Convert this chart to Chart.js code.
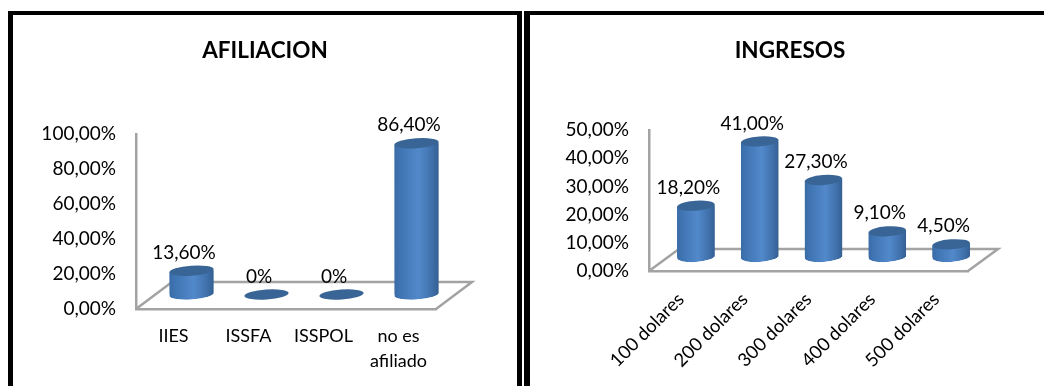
<!DOCTYPE html>
<html>
<head>
<meta charset="utf-8">
<script src="https://cdn.jsdelivr.net/npm/chart.js@4/dist/chart.umd.min.js"></script>
<style>
    html, body { margin: 0; padding: 0; background: #fff; overflow: hidden; }
    body { position: relative; width: 1044px; height: 386px; }
    canvas { position: absolute; top: 0; }
    #afiliacion { left: 0; }
    #ingresos { left: 522px; }
    .edge { position: absolute; background: #000; }
</style>
</head>
<body>
<canvas id="afiliacion" width="522" height="386"></canvas>
<canvas id="ingresos" width="522" height="386"></canvas>
<div class="edge" style="left:8px;top:11px;width:5px;height:375px"></div>
<div class="edge" style="left:8px;top:11px;width:514px;height:4px"></div>
<div class="edge" style="left:517px;top:11px;width:5px;height:375px"></div>
<div class="edge" style="left:524px;top:11px;width:6px;height:375px"></div>
<div class="edge" style="left:524px;top:11px;width:520px;height:4px"></div>
<script>
const afiliacionLabels = ['IIES', 'ISSFA', 'ISSPOL', ['no es', 'afiliado']];
const afiliacionValues = [13.6, 0, 0, 86.4];
const afiliacionText = ['13,60%', '0%', '0%', '86,40%'];

const ingresosLabels = ['100 dolares', '200 dolares', '300 dolares', '400 dolares', '500 dolares'];
const ingresosValues = [18.2, 41, 27.3, 9.1, 4.5];
const ingresosText = ['18,20%', '41,00%', '27,30%', '9,10%', '4,50%'];

const FONT = 'Lato, "Open Sans", sans-serif';
const AXIS_GREY = '#a3a3a3';
const TILT = -0.07;

function percentTick(value) {
    return value.toFixed(2).replace('.', ',') + '%';
}

// outline of one cylinder body, a little tilted like the Excel 3D view
function cylinderPath(ctx, x, top, base, rx, ry) {
    const rot = Math.atan(TILT);
    ctx.moveTo(x - rx, top - rx * TILT);
    ctx.lineTo(x + rx, top + rx * TILT);
    ctx.lineTo(x + rx, base + rx * TILT);
    ctx.ellipse(x, base, rx, ry, rot, 0, Math.PI);
    ctx.closePath();
}

// floor, depth shift, caps and value labels for the fake 3D look
const cylinders = {
    id: 'cylinders',
    afterLayout(chart, args, opts) {
        // title sits over the panel, not over the plot area
        chart.titleBlock.left = opts.titleX - 100;
        chart.titleBlock.right = opts.titleX + 100;
    },
    beforeDatasetsDraw(chart, args, opts) {
        const { ctx, scales: { x, y } } = chart;
        const front = y.getPixelForValue(0);

        ctx.save();
        ctx.strokeStyle = AXIS_GREY;
        ctx.lineWidth = 2.5;
        ctx.beginPath();
        ctx.moveTo(x.left, front);
        ctx.lineTo(x.left + opts.floorX, front - opts.floorY);
        ctx.lineTo(x.right + opts.floorX, front - opts.floorY);
        ctx.lineTo(x.right, front);
        ctx.stroke();
        ctx.restore();

        // library bars get moved back onto the middle of the floor
        ctx.save();
        ctx.translate(opts.floorX / 2, -opts.barLift);
        ctx.beginPath();
        chart.getDatasetMeta(0).data.forEach(bar => {
            const rx = bar.width / 2;
            if (bar.height > 0) cylinderPath(ctx, bar.x, bar.y, bar.base, rx, opts.capY);
        });
        ctx.clip();
    },
    afterDatasetsDraw(chart, args, opts) {
        const { ctx } = chart;
        const rot = Math.atan(TILT);
        const meta = chart.getDatasetMeta(0);

        meta.data.forEach(bar => {
            const rx = bar.width / 2;
            if (bar.height > 0) {
                ctx.fillStyle = bar.options.backgroundColor;
                ctx.beginPath();
                cylinderPath(ctx, bar.x, bar.y, bar.base, rx, opts.capY);
                ctx.fill();
            }
        });
        ctx.restore();

        ctx.save();
        ctx.translate(opts.floorX / 2, -opts.barLift);
        meta.data.forEach((bar, i) => {
            const rx = bar.width / 2;
            ctx.fillStyle = '#386595';
            ctx.beginPath();
            ctx.ellipse(bar.x, bar.y, rx, opts.capY, rot, 0, Math.PI * 2);
            ctx.fill();

            ctx.fillStyle = '#000';
            ctx.font = '19px ' + FONT;
            ctx.textAlign = 'center';
            ctx.textBaseline = 'middle';
            ctx.fillText(opts.text[i], bar.x - 7.5, bar.y - 18);
        });
        ctx.restore();
    }
};

function cylinderFill(context) {
    const chart = context.chart;
    const scale = chart.scales.x;
    if (!scale || !chart.chartArea) return '#4f81bd';
    const center = scale.getPixelForValue(context.dataIndex);
    const half = scale.width / scale.ticks.length * 0.59 / 2;
    const g = chart.ctx.createLinearGradient(center - half, 0, center + half, 0);
    g.addColorStop(0, '#3a6ba5');
    g.addColorStop(0.12, '#3f74b2');
    g.addColorStop(0.55, '#5289cb');
    g.addColorStop(0.85, '#3f70aa');
    g.addColorStop(1, '#345f92');
    return g;
}

function makeChart(id, cfg) {
    return new Chart(document.getElementById(id), {
        type: 'bar',
        plugins: [cylinders],
        data: {
            labels: cfg.labels,
            datasets: [{
                data: cfg.values,
                backgroundColor: cylinderFill,
                borderWidth: 0,
                barPercentage: 0.59,
                categoryPercentage: 1
            }]
        },
        options: {
            responsive: false,
            animation: false,
            layout: { padding: cfg.padding },
            plugins: {
                legend: { display: false },
                tooltip: { enabled: false },
                title: {
                    display: true,
                    text: cfg.title,
                    color: '#000',
                    font: { family: FONT, size: 22.5, weight: 'bold' },
                    padding: { top: 0, bottom: cfg.titleGap }
                },
                cylinders: {
                    floorX: cfg.floorX, floorY: cfg.floorY, barLift: cfg.barLift,
                    capY: cfg.capY, text: cfg.text, titleX: cfg.titleX
                }
            },
            scales: {
                x: {
                    grid: { display: false },
                    border: { color: AXIS_GREY, width: 2.5 },
                    afterFit: s => { s.height = cfg.xHeight; },
                    ticks: {
                        color: '#000',
                        autoSkip: false,
                        padding: cfg.xPad,
                        minRotation: cfg.rotation,
                        maxRotation: cfg.rotation,
                        font: { family: FONT, size: cfg.xFont, lineHeight: 1.42 }
                    }
                },
                y: {
                    min: 0,
                    max: cfg.max,
                    grid: { display: false },
                    border: { color: AXIS_GREY, width: 2.5 },
                    afterFit: s => { s.width = cfg.yWidth; },
                    ticks: {
                        color: '#000',
                        stepSize: cfg.step,
                        padding: cfg.yPad,
                        callback: percentTick,
                        font: { family: FONT, size: 19 }
                    }
                }
            }
        }
    });
}

makeChart('afiliacion', {
    title: 'AFILIACION', labels: afiliacionLabels, values: afiliacionValues, text: afiliacionText,
    max: 100, step: 20, rotation: 0, titleX: 265,
    padding: { top: 37, left: 26, right: 86, bottom: 0 },
    titleGap: 70, xHeight: 77, xPad: 6, xFont: 18, yWidth: 110, yPad: 12,
    floorX: 36, floorY: 27, barLift: 14.5, capY: 5
});

makeChart('ingresos', {
    title: 'INGRESOS', labels: ingresosLabels, values: ingresosValues, text: ingresosText,
    max: 50, step: 10, rotation: 45, titleX: 268,
    padding: { top: 37, left: 17, right: 76, bottom: 0 },
    titleGap: 66, xHeight: 115, xPad: 8, xFont: 18.5, yWidth: 110, yPad: 12,
    floorX: 30, floorY: 22, barLift: 14, capY: 5
});
</script>
</body>
</html>
